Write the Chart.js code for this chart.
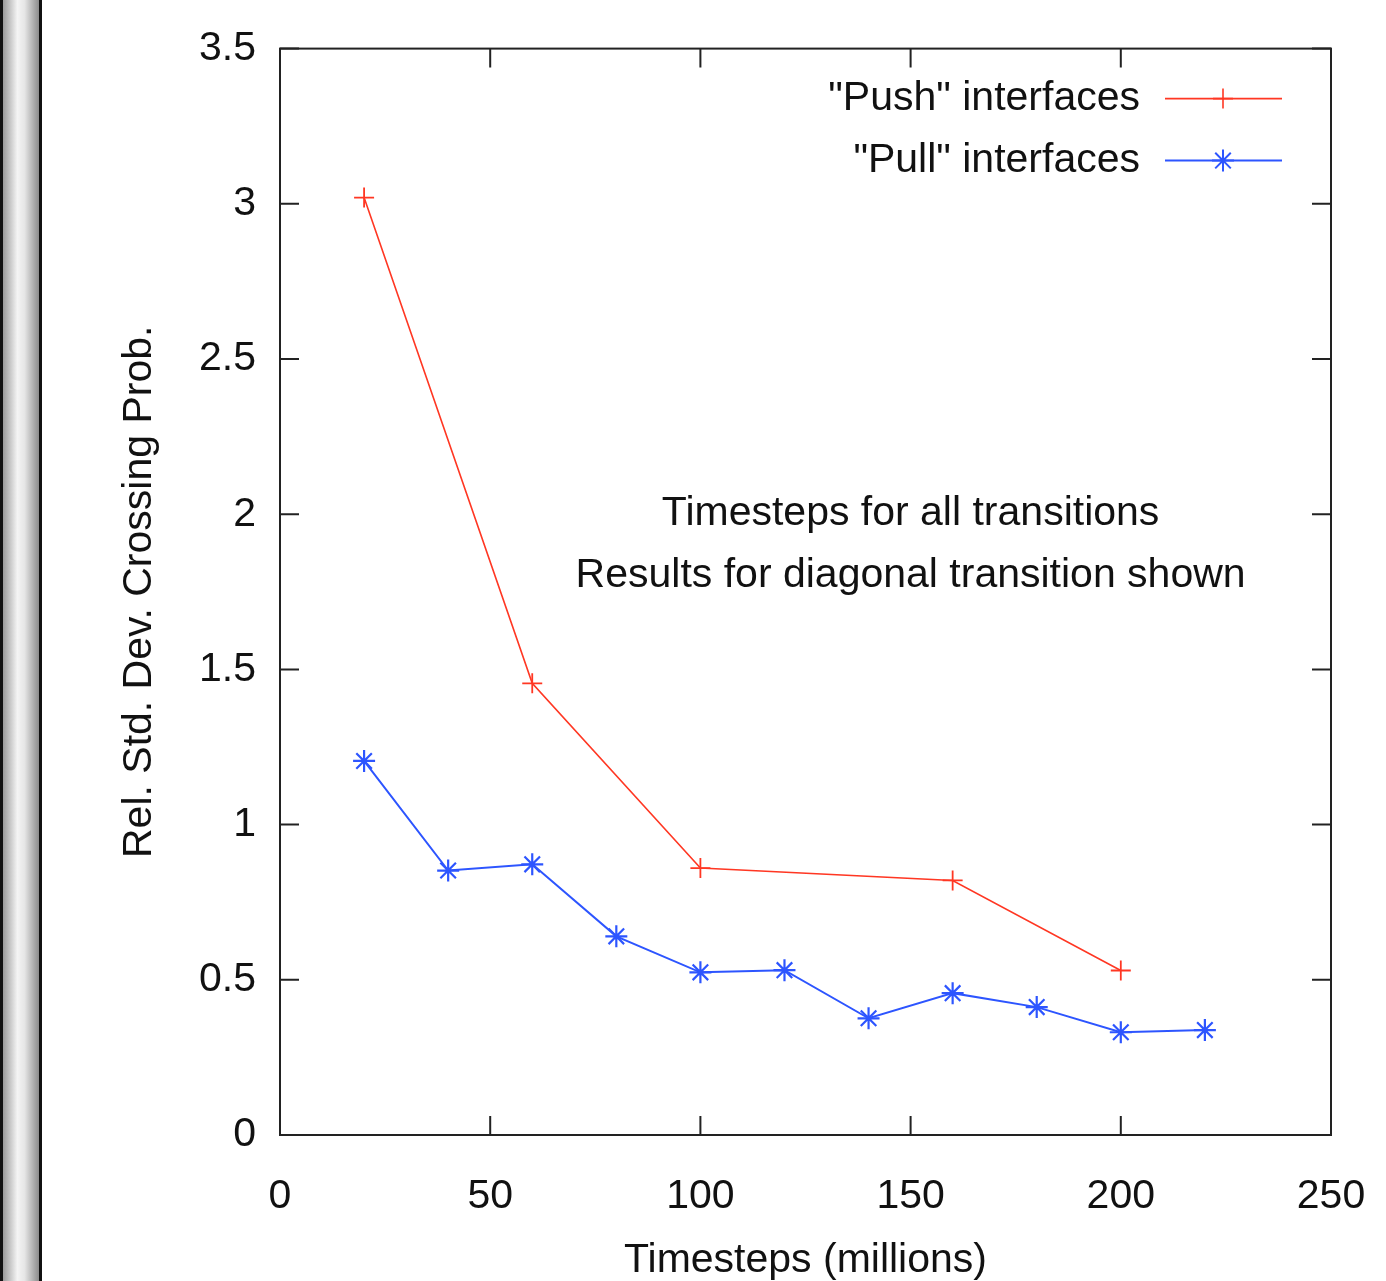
<!DOCTYPE html>
<html>
<head>
<meta charset="utf-8">
<script src="https://cdn.jsdelivr.net/npm/chart.js@4.4.1/dist/chart.umd.min.js"></script>
<style>
  html, body { margin: 0; padding: 0; background: #fff; }
  #wrap { position: relative; width: 1386px; height: 1281px; }
  #bar {
    position: absolute; left: 0; top: 0; width: 36px; height: 1281px;
    border-left: 3px solid #111; border-right: 3px solid #111;
    background: linear-gradient(to right, #9a9a9a, #f4f4f4 40%, #e6e6e6 60%, #8c8c8c);
  }
  canvas { position: absolute; left: 0; top: 0; }
</style>
</head>
<body>
<div id="wrap">
  <canvas id="chart" width="1386" height="1281"></canvas>
  <div id="bar"></div>
</div>
<script>
// values
const pushX = [20, 60, 100, 160, 200];
const pushY = [3.02, 1.455, 0.86, 0.82, 0.53];
const pullX = [20, 40, 60, 80, 100, 120, 140, 160, 180, 200, 220];
const pullY = [1.205, 0.852, 0.872, 0.64, 0.524, 0.531, 0.376, 0.457, 0.412, 0.331, 0.338];
const legendLabels = ['"Push" interfaces', '"Pull" interfaces'];
const noteLines = ['Timesteps for all transitions', 'Results for diagonal transition shown'];

const fontFamily = '"Liberation Sans", Arial, Helvetica, sans-serif';
const fontSize = 41;
const red = 'rgb(255, 55, 35)';
const blue = 'rgb(45, 85, 255)';

const toPoints = (xs, ys) => xs.map((x, i) => ({ x: x, y: ys[i] }));

// frame, inward mirror ticks, key and note, gnuplot style
const gnuplotDecor = {
    id: 'gnuplotDecor',
    afterDatasetsDraw(chart) {
        const { ctx, chartArea: a, scales: { x, y } } = chart;
        const tl = 19;
        ctx.save();
        ctx.strokeStyle = '#222';
        ctx.lineWidth = 2;
        ctx.beginPath();
        x.ticks.forEach(t => {
            const px = x.getPixelForValue(t.value);
            ctx.moveTo(px, a.bottom); ctx.lineTo(px, a.bottom - tl);
            ctx.moveTo(px, a.top); ctx.lineTo(px, a.top + tl);
        });
        y.ticks.forEach(t => {
            const py = y.getPixelForValue(t.value);
            ctx.moveTo(a.left, py); ctx.lineTo(a.left + tl, py);
            ctx.moveTo(a.right, py); ctx.lineTo(a.right - tl, py);
        });
        ctx.stroke();
        ctx.strokeRect(a.left, a.top, a.right - a.left, a.bottom - a.top);

        // key
        ctx.font = fontSize + 'px ' + fontFamily;
        ctx.fillStyle = '#111';
        ctx.textBaseline = 'middle';
        chart.data.datasets.forEach((ds, i) => {
            const ky = a.top + 50 + i * 62;
            ctx.textAlign = 'right';
            ctx.fillText(legendLabels[i], a.right - 191, ky);
            ctx.strokeStyle = ds.borderColor;
            ctx.lineWidth = ds.borderWidth;
            ctx.beginPath();
            ctx.moveTo(a.right - 166, ky); ctx.lineTo(a.right - 49, ky);
            ctx.stroke();
            Chart.helpers.drawPoint(ctx, {
                pointStyle: ds.pointStyle, radius: ds.pointRadius,
                borderWidth: ds.pointBorderWidth, rotation: 0
            }, a.right - 108, ky);
        });

        // note
        ctx.fillStyle = '#111';
        ctx.textAlign = 'center';
        noteLines.forEach((line, i) => {
            ctx.fillText(line, x.getPixelForValue(150), y.getPixelForValue(2) - 1 + i * 62);
        });
        ctx.restore();
    }
};

new Chart(document.getElementById('chart'), {
    type: 'line',
    data: {
        datasets: [
            {
                label: legendLabels[0],
                data: toPoints(pushX, pushY),
                borderColor: red,
                pointBorderColor: red,
                borderWidth: 1.6,
                pointStyle: 'cross',
                pointRadius: 10,
                pointBorderWidth: 1.8,
                tension: 0
            },
            {
                label: legendLabels[1],
                data: toPoints(pullX, pullY),
                borderColor: blue,
                pointBorderColor: blue,
                borderWidth: 2,
                pointStyle: 'star',
                pointRadius: 11,
                pointBorderWidth: 2.2,
                tension: 0
            }
        ]
    },
    options: {
        responsive: false,
        animation: false,
        layout: { padding: { top: 47, right: 55, left: 0, bottom: 0 } },
        scales: {
            x: {
                type: 'linear',
                min: 0, max: 250,
                afterFit: s => { s.height = 146; s.paddingLeft = 0; s.paddingRight = 0; },
                ticks: { stepSize: 50, color: '#111', padding: 37, maxRotation: 0,
                         font: { family: fontFamily, size: fontSize } },
                grid: { display: false, drawTicks: false },
                border: { display: false },
                title: { display: true, text: 'Timesteps (millions)', color: '#111',
                         padding: { top: 0, bottom: -4 },
                         font: { family: fontFamily, size: fontSize } }
            },
            y: {
                min: 0, max: 3.5,
                afterFit: s => { s.width = 280; },
                ticks: { stepSize: 0.5, color: '#111', padding: 24,
                         callback: v => String(v),
                         font: { family: fontFamily, size: fontSize } },
                grid: { display: false, drawTicks: false },
                border: { display: false },
                title: { display: true, text: 'Rel. Std. Dev. Crossing Prob.', color: '#111',
                         padding: { top: 115, bottom: 0 },
                         font: { family: fontFamily, size: fontSize } }
            }
        },
        plugins: {
            legend: { display: false },
            tooltip: { enabled: false }
        }
    },
    plugins: [gnuplotDecor]
});
</script>
</body>
</html>
